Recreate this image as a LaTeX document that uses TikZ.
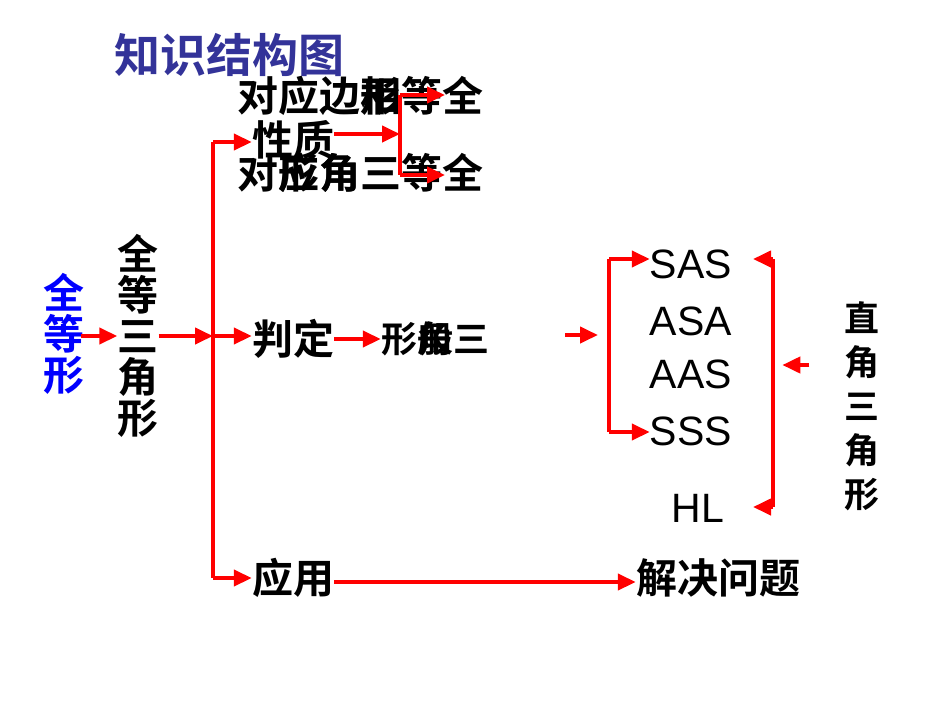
\documentclass[tikz,border=0pt]{standalone}
\usepackage{fontspec}
\setmainfont{Liberation Sans}
\newfontfamily\cjk{Noto Sans CJK SC}[BoldFont=Noto Sans CJK SC Bold]
\usetikzlibrary{arrows.meta}
\definecolor{titleblue}{RGB}{51,51,153}

\begin{document}
\begin{tikzpicture}[x=1pt,y=-1pt,
	txt/.style={font=\cjk\bfseries\fontsize{41}{41}\selectfont,inner sep=0pt},
	vtxt/.style={txt,align=center},
	abc/.style={font=\fontsize{41}{41}\selectfont,inner sep=0pt},
	arr/.style={red,line width=4pt,-{Triangle[length=18pt,width=16pt]}},
	lin/.style={red,line width=4pt}]
	\useasboundingbox[fill=white] (0,0) rectangle (950,713);
	% title
	\node[txt,text=titleblue,font=\cjk\bfseries\fontsize{46}{46}\selectfont] (ti) at (229,55) {知识结构图};
	% left column
	\node[vtxt,text=blue] (qdx) at (64,334) {全\\等\\形};
	\node[vtxt] (qd) at (138,336) {全\\等\\三\\角\\形};
	\draw[arr] ([xshift=-4pt]qdx.east |- qd) -- (qd.west);
	\coordinate (jm) at (213,336);
	\coordinate (jt) at (213,142);
	\coordinate (jb) at (213,578);
	\draw[arr] (qd.east) -- (jm);
	\draw[lin] (jt) -- (jb);
	% branches
	\node[txt] (xz) at (293,140) {性质};
	\node[txt] (pd) at (293,339) {判定};
	\node[txt] (yy) at (293,578) {应用};
	\draw[arr] (jt) -- (xz.west |- jt);
	\draw[arr] (jm) -- (pd.west |- jm);
	\draw[arr] (jb) -- (yy.west |- jb);
	% properties (overlapping texts)
	\node[txt,anchor=west] (dyb) at (237,96) {对应边相等全};
	\node[txt,anchor=west] (dyb2) at (237,96) {\phantom{对应边}形};
	\node[txt,anchor=west] (dyj) at (237,173) {对应角三等全};
	\node[txt,anchor=west] (dyj2) at (237,173) {\phantom{对}形角};
	\coordinate (k0) at (400,134);
	\coordinate (k1) at (400,95);
	\coordinate (k2) at (400,175);
	\coordinate (k1e) at (445,95);
	\coordinate (k2e) at (445,175);
	\draw[arr] (xz.east |- k0) -- (k0);
	\draw[lin] (k1) -- (k2);
	\draw[arr] (k1) -- (k1e);
	\draw[arr] (k2) -- (k2e);
	% criteria
	\node[txt,font=\cjk\bfseries\fontsize{36}{36}\selectfont] (sjx) at (435,339) {形角三};
	\node[txt,font=\cjk\bfseries\fontsize{36}{36}\selectfont] (sjx2) at (435,339) {\phantom{形}般\phantom{三}};
	\draw[arr] (pd.east) -- (sjx.west);
	\coordinate (s0) at (565,335);
	\coordinate (s1) at (598,335);
	\draw[arr] (s0) -- (s1);
	\node[abc] (sas) at (691,264) {SAS};
	\node[abc] (asa) at (691,321) {ASA};
	\node[abc] (aas) at (691,374) {AAS};
	\node[abc] (sss) at (691,431) {SSS};
	\node[abc] (hl) at (698,508) {HL};
	\coordinate (b1) at (609,259);
	\coordinate (b2) at (609,432);
	\draw[lin] (b1) -- (b2);
	\draw[arr] (b1) -- (sas.west |- b1);
	\draw[arr] (b2) -- (sss.west |- b2);
	\coordinate (c1) at (773,259);
	\coordinate (c2) at (773,507);
	\coordinate (c0) at (773,365);
	\draw[lin] (c1) -- (c2);
	\draw[arr] (c1) -- ++(-20,0) coordinate (c1e);
	\draw[arr] (c2) -- ++(-20,0) coordinate (c2e);
	\node[vtxt,font=\cjk\bfseries\fontsize{35}{44}\selectfont] (zj) at (862,406) {直\\角\\三\\角\\形};
	\draw[arr] (zj.west |- c0) ++(-35,0) -- ++(-27,0);
	% application
	\node[txt] (jj) at (718,578) {解决问题};
	\draw[arr] (yy.east |- 0,582) -- (jj.west |- 0,582);
\end{tikzpicture}
\end{document}
